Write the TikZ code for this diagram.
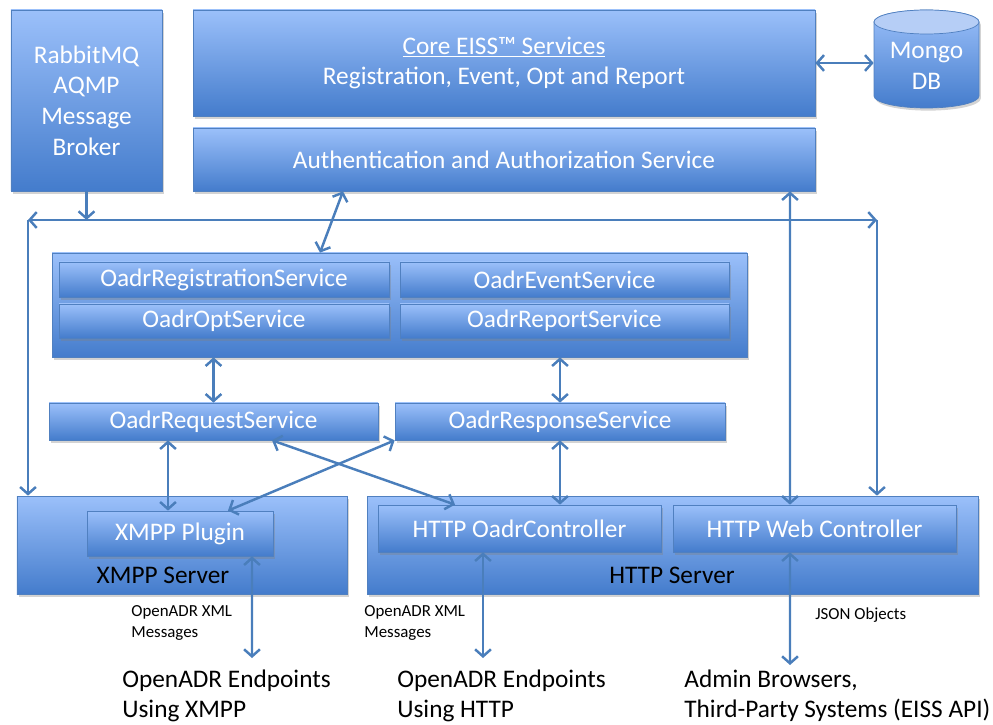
\documentclass[tikz,border=0pt]{standalone}
\usepackage{fontspec}
\setmainfont{Carlito}
\usetikzlibrary{arrows.meta,shadows}
\definecolor{boxtop}{RGB}{155,192,250}
\definecolor{boxbot}{RGB}{68,124,204}
\definecolor{boxline}{RGB}{80,128,192}
\definecolor{endblue}{RGB}{182,206,246}
\definecolor{arrowblue}{RGB}{74,126,187}
\begin{document}
\begin{tikzpicture}[y=-1cm, >={Straight Barb[length=4pt,width=9pt]},
	box/.style={draw=boxline, top color=boxtop, bottom color=boxbot, text=white,
		drop shadow={shadow xshift=1pt, shadow yshift=-1.5pt, opacity=0.35},
		font=\fontsize{14.4}{17.5}\selectfont, align=center, inner sep=0pt},
	link/.style={arrowblue, line width=1.4pt},
	note/.style={font=\fontsize{9.6}{11.5}\selectfont, align=left, anchor=west, inner sep=0pt},
	ends/.style={font=\fontsize{14.4}{16.8}\selectfont, align=left, anchor=west, inner sep=0pt}]
	\useasboundingbox (0,0) rectangle (19.86,14.5);

	\node[box, minimum width=3.02cm, minimum height=3.62cm] (R) at (1.73,2.01) {RabbitMQ\\AQMP\\Message\\Broker};
	\node[box, minimum width=12.44cm, minimum height=2.12cm] (C) at (10.08,1.26) {\underline{Core EISS™ Services}\\Registration, Event, Opt and Report};
	\node[box, minimum width=12.44cm, minimum height=1.26cm] (A) at (10.08,3.19) {Authentication and Authorization Service};

	% Mongo DB drum
	\path[box] (17.48,0.44) -- (17.48,1.92) arc[start angle=180, end angle=0, x radius=1.05, y radius=0.24]
		-- (19.58,0.44) arc[start angle=0, end angle=-180, x radius=1.05, y radius=0.24] -- cycle;
	\draw[boxline, fill=endblue] (18.53,0.44) ellipse [x radius=1.05, y radius=0.24];
	\node[text=white, font=\fontsize{14.4}{18}\selectfont, align=center, inner sep=0pt,
		minimum width=2.1cm, minimum height=1.52cm] (M) at (18.53,1.32) {Mongo\\DB};

	\node[box, minimum width=13.9cm, minimum height=2.08cm] (S) at (7.99,6.10) {};
	\node[box, minimum width=6.6cm, minimum height=0.70cm] (Reg) at (4.48,5.59) {OadrRegistrationService};
	\node[box, minimum width=6.6cm, minimum height=0.68cm] (Opt) at (4.48,6.42) {OadrOptService};
	\node[box, minimum width=6.58cm, minimum height=0.70cm] (Evt) at (11.29,5.59) {OadrEventService};
	\node[box, minimum width=6.58cm, minimum height=0.68cm] (Rep) at (11.29,6.42) {OadrReportService};

	\node[box, minimum width=6.58cm, minimum height=0.74cm] (Req) at (4.27,8.43) {OadrRequestService};
	\node[box, minimum width=6.6cm, minimum height=0.74cm] (Res) at (11.2,8.43) {OadrResponseService};

	\node[box, minimum width=6.6cm, minimum height=1.96cm] (X) at (3.64,10.90) {};
	\node[box, minimum width=3.72cm, minimum height=0.9cm] (P) at (3.6,10.67) {XMPP Plugin};
	\node[box, minimum width=12.22cm, minimum height=1.96cm] (H) at (13.45,10.90) {};
	\node[box, minimum width=5.66cm, minimum height=0.94cm] (HO) at (10.39,10.57) {HTTP OadrController};
	\node[box, minimum width=5.66cm, minimum height=0.94cm] (HW) at (16.29,10.57) {HTTP Web Controller};
	\node[font=\fontsize{14.4}{17.5}\selectfont] (XL) at (3.26,11.5) {XMPP Server};
	\node[font=\fontsize{14.4}{17.5}\selectfont] (HL) at (13.44,11.5) {HTTP Server};

	\node[note] (L1) at (2.62,12.46) {OpenADR XML\\Messages};
	\node[note] (L2) at (7.28,12.46) {OpenADR XML\\Messages};
	\node[note] (L3) at (16.30,12.30) {JSON Objects};
	\node[ends] (E1) at (2.44,13.92) {OpenADR Endpoints\\Using XMPP};
	\node[ends] (E2) at (7.94,13.92) {OpenADR Endpoints\\Using HTTP};
	\node[ends] (E3) at (13.68,13.92) {Admin Browsers,\\Third-Party Systems (EISS API)};

	\coordinate (b) at (1.73,4.40);
	\coordinate (bl) at (0.56,4.40);
	\coordinate (br) at (17.54,4.40);
	\coordinate (e1) at (5.04,13.16);
	\coordinate (e2) at (9.66,13.16);
	\coordinate (e3) at (15.80,13.30);

	\draw[link, <->] (C.east) -- (C.east -| M.west);
	\draw[link, ->] (R.south) -- (b);
	\draw[link, ->] (b) -- (bl);
	\draw[link, ->] (bl) -- (bl |- X.north);
	\draw[link, ->] (b) -- (br);
	\draw[link, ->] (br) -- (br |- H.north);
	\draw[link, <->] ([xshift=-3.22cm]A.south) -- ([xshift=-1.59cm]S.north);
	\draw[link, <->] ([xshift=5.72cm]A.south) -- ([xshift=-0.49cm]HW.north);
	\draw[link, <->] (S.south -| Req.north) -- (Req.north);
	\draw[link, <->] (S.south -| Res.north) -- (Res.north);
	\draw[link, <->] ([xshift=-0.91cm]Req.south) -- ([xshift=-0.24cm]P.north);
	\draw[link, <->] (Res.south) -- (Res.south |- HO.north);
	\draw[link, <->] ([xshift=1.17cm]Req.south) -- ([xshift=-1.29cm]HO.north);
	\draw[link, <->] (Res.south west) -- ([xshift=0.96cm]P.north);
	\draw[link, <->] ([xshift=1.44cm]P.south) -- (e1);
	\draw[link, <->] ([xshift=-0.73cm]HO.south) -- (e2);
	\draw[link, <->] ([xshift=-0.49cm]HW.south) -- (e3);
\end{tikzpicture}
\end{document}
